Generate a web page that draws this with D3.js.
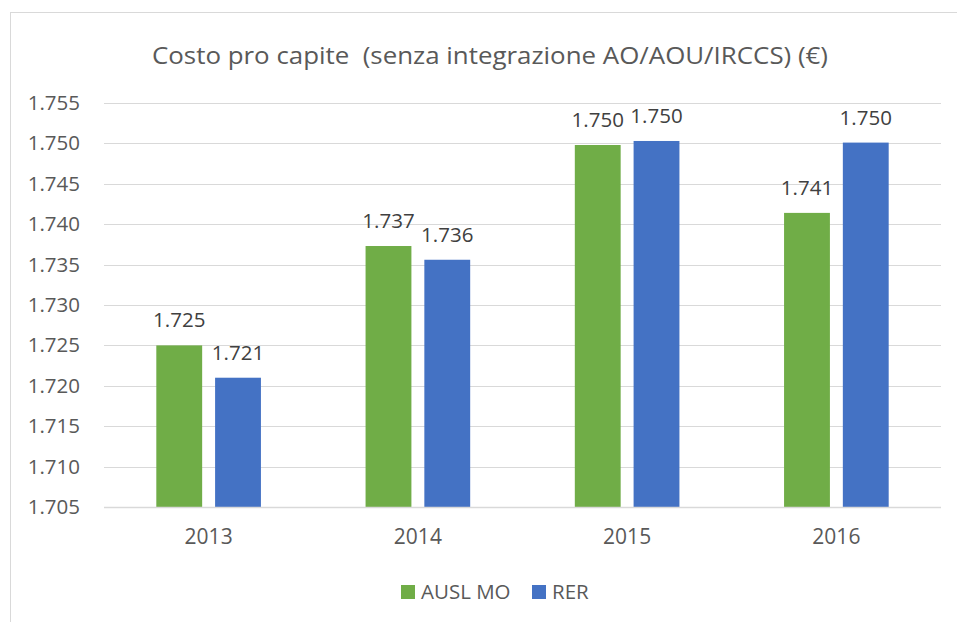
<!DOCTYPE html>
<html>
<head>
<meta charset="utf-8">
<script src="https://cdn.jsdelivr.net/npm/d3@7"></script>
<style>
body { margin: 0; background: #fff; }
text { font-family: "Open Sans", sans-serif; white-space: pre; }
</style>
</head>
<body>
<script>
var years = ["2013", "2014", "2015", "2016"];
var seriesNames = ["AUSL MO", "RER"];
var auslMo = [1725.0, 1737.3, 1749.8, 1741.4];
var rer = [1721.0, 1735.6, 1750.3, 1750.1];
var yTicks = [1705, 1710, 1715, 1720, 1725, 1730, 1735, 1740, 1745, 1750, 1755];
var colors = ["#70ad47", "#4472c4"];
var title = "Costo pro capite  (senza integrazione AO/AOU/IRCCS) (€)";

var W = 957, H = 622;
var margin = {top: 103, right: 16, bottom: 115, left: 104};
var width = W - margin.left - margin.right,
    height = H - margin.top - margin.bottom;

var it = d3.formatLocale({decimal: ",", thousands: ".", grouping: [3], currency: ["", "€"]});
var fmt = it.format(",.0f");

var data = years.map(function(y, i) {
    return {year: y, values: [auslMo[i], rer[i]]};
});

var svg = d3.select("body").append("svg")
    .attr("width", W)
    .attr("height", H);

// chart frame (extends past the window)
svg.append("rect")
    .attr("x", 10.5).attr("y", 12.5)
    .attr("width", 1000).attr("height", 700)
    .attr("fill", "#fff")
    .attr("stroke", "#d9d9d9");

svg.append("text")
    .attr("x", 490).attr("y", 64)
    .attr("text-anchor", "middle")
    .attr("font-size", 24)
    .attr("fill", "#595959")
    .attr("textLength", 676)
    .attr("lengthAdjust", "spacingAndGlyphs")
    .text(title);

var g = svg.append("g")
    .attr("transform", "translate(" + margin.left + "," + margin.top + ")");

var x0 = d3.scaleBand()
    .domain(years)
    .range([0, width])
    .paddingInner(0.5)
    .paddingOuter(0.25);

var x1 = d3.scaleBand()
    .domain(d3.range(seriesNames.length))
    .range([0, x0.bandwidth()])
    .paddingInner(0.22);

var y = d3.scaleLinear()
    .domain([1705, 1755])
    .range([height, 0]);

// gridlines
g.selectAll(".grid")
    .data(yTicks)
    .enter().append("line")
    .attr("class", "grid")
    .attr("x1", 0).attr("x2", width)
    .attr("y1", function(d) { return Math.round(y(d)) + 0.5; })
    .attr("y2", function(d) { return Math.round(y(d)) + 0.5; })
    .attr("stroke", "#d9d9d9")
    .attr("stroke-width", 1.2);

var yAxis = d3.axisLeft(y)
    .tickValues(yTicks)
    .tickFormat(fmt)
    .tickSize(0)
    .tickPadding(24);

g.append("g")
    .attr("class", "y axis")
    .call(yAxis)
    .call(function(s) { s.select(".domain").remove(); })
    .selectAll("text")
    .attr("font-size", 20.5)
    .attr("font-family", "Open Sans, sans-serif")
    .attr("fill", "#595959");

var xAxis = d3.axisBottom(x0)
    .tickSize(0)
    .tickPadding(22);

g.append("g")
    .attr("class", "x axis")
    .attr("transform", "translate(0," + height + ")")
    .call(xAxis)
    .call(function(s) { s.select(".domain").remove(); })
    .selectAll("text")
    .attr("font-size", 21)
    .attr("font-family", "Open Sans, sans-serif")
    .attr("fill", "#595959");

var group = g.selectAll(".year")
    .data(data)
    .enter().append("g")
    .attr("class", "year")
    .attr("transform", function(d) { return "translate(" + x0(d.year) + ",0)"; });

group.selectAll("rect")
    .data(function(d) { return d.values; })
    .enter().append("rect")
    .attr("x", function(d, i) { return x1(i); })
    .attr("y", function(d) { return y(d); })
    .attr("width", x1.bandwidth())
    .attr("height", function(d) { return height - y(d); })
    .attr("fill", function(d, i) { return colors[i]; });

group.selectAll(".lbl")
    .data(function(d) { return d.values; })
    .enter().append("text")
    .attr("class", "lbl")
    .attr("x", function(d, i) { return x1(i) + x1.bandwidth() / 2; })
    .attr("y", function(d) { return y(d) - 18; })
    .attr("text-anchor", "middle")
    .attr("font-size", 20.5)
    .attr("fill", "#404040")
    .text(function(d) { return fmt(d); });

// bottom axis line
g.append("line")
    .attr("x1", 0).attr("x2", width)
    .attr("y1", Math.round(height) + 0.5).attr("y2", Math.round(height) + 0.5)
    .attr("stroke", "#d9d9d9")
    .attr("stroke-width", 1.5);

// legend
var legendX = [401, 532];
var legend = svg.append("g").attr("class", "legend");
legend.selectAll("rect")
    .data(seriesNames)
    .enter().append("rect")
    .attr("x", function(d, i) { return legendX[i]; })
    .attr("y", 585)
    .attr("width", 14).attr("height", 14)
    .attr("fill", function(d, i) { return colors[i]; });
legend.selectAll("text")
    .data(seriesNames)
    .enter().append("text")
    .attr("x", function(d, i) { return legendX[i] + 20; })
    .attr("y", 599)
    .attr("font-size", 20.5)
    .attr("fill", "#595959")
    .text(function(d) { return d; });
</script>
</body>
</html>
